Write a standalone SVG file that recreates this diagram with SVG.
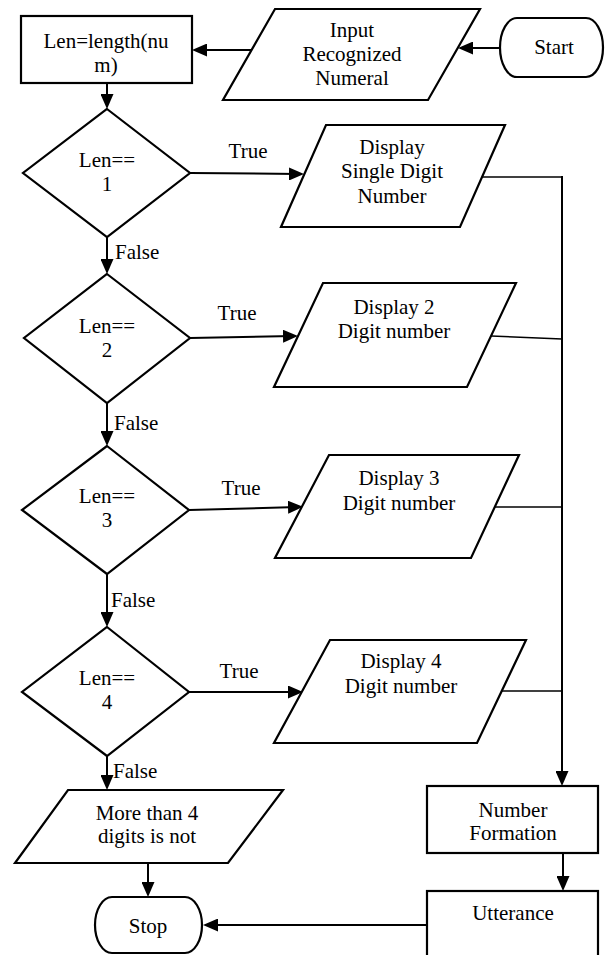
<svg xmlns="http://www.w3.org/2000/svg" width="609" height="955" viewBox="0 0 609 955" font-family="'Liberation Serif', 'DejaVu Serif', serif" font-size="21">
  <style>
    .shape { fill: #ffffff; stroke: #000000; stroke-width: 2.2; stroke-linejoin: miter; }
    .flow { fill: none; stroke: #000000; stroke-width: 2; }
    .thin { fill: none; stroke: #000000; stroke-width: 1.4; }
    .c { text-anchor: middle; }
  </style>
  <defs>
    <marker id="arrow" markerUnits="userSpaceOnUse" markerWidth="15" markerHeight="13" refX="10" refY="6.5" orient="auto" viewBox="0 0 15 13">
      <path d="M0,0 L15,6.5 L0,13 z" fill="#000000"/>
    </marker>
  </defs>

  <rect width="609" height="955" fill="#ffffff"/>

  <!-- connectors -->
  <g id="connectors">
    <line class="flow" x1="500" y1="48" x2="463" y2="48" marker-end="url(#arrow)"/>
    <line class="flow" x1="251" y1="50" x2="197" y2="50" marker-end="url(#arrow)"/>
    <line class="flow" x1="107" y1="83" x2="107" y2="104" marker-end="url(#arrow)"/>
    <line class="flow" x1="190" y1="173" x2="299" y2="174" marker-end="url(#arrow)"/>
    <line class="flow" x1="107" y1="237" x2="107" y2="269" marker-end="url(#arrow)"/>
    <line class="flow" x1="190" y1="338" x2="293" y2="336" marker-end="url(#arrow)"/>
    <line class="flow" x1="107" y1="403" x2="107" y2="441" marker-end="url(#arrow)"/>
    <line class="flow" x1="189" y1="510" x2="298" y2="507" marker-end="url(#arrow)"/>
    <line class="flow" x1="107" y1="574" x2="107" y2="622" marker-end="url(#arrow)"/>
    <line class="flow" x1="189" y1="692" x2="298" y2="692" marker-end="url(#arrow)"/>
    <line class="flow" x1="107" y1="756" x2="107" y2="785" marker-end="url(#arrow)"/>
    <line class="flow" x1="148" y1="863" x2="148" y2="892" marker-end="url(#arrow)"/>

    <!-- output branches joining the collector line -->
    <line class="thin" x1="482" y1="177" x2="562" y2="177"/>
    <line class="thin" x1="491" y1="336" x2="562" y2="339"/>
    <line class="thin" x1="495" y1="507" x2="562" y2="507"/>
    <line class="thin" x1="501" y1="691" x2="562" y2="691"/>
    <line class="flow" x1="562" y1="176" x2="562" y2="781" marker-end="url(#arrow)"/>

    <line class="flow" x1="563" y1="853" x2="563" y2="886" marker-end="url(#arrow)"/>
    <line class="flow" x1="427" y1="925" x2="208" y2="925" marker-end="url(#arrow)"/>

    <text x="248" y="158" class="c">True</text>
    <text x="237" y="320" class="c">True</text>
    <text x="241" y="495" class="c">True</text>
    <text x="239" y="678" class="c">True</text>
    <text x="115" y="259">False</text>
    <text x="114" y="430">False</text>
    <text x="111" y="607">False</text>
    <text x="113" y="778">False</text>
  </g>

  <g id="start">
    <rect class="shape" x="500" y="18" width="103" height="59" rx="17" ry="29.5"/>
    <text x="554" y="54" class="c">Start</text>
  </g>

  <g id="input">
    <polygon class="shape" points="275,9 480,9 428,100 223,100"/>
    <text x="352" y="37" class="c">Input</text>
    <text x="352" y="61" class="c">Recognized</text>
    <text x="352" y="85" class="c">Numeral</text>
  </g>

  <g id="length">
    <rect class="shape" x="21" y="16" width="171" height="67"/>
    <text x="106" y="48" class="c">Len=length(nu</text>
    <text x="106" y="72" class="c">m)</text>
  </g>

  <g id="check1">
    <polygon class="shape" points="107,109 190,173 107,237 23,173"/>
    <text x="107" y="167" class="c">Len==</text>
    <text x="107" y="191" class="c">1</text>
  </g>

  <g id="display1">
    <polygon class="shape" points="326,125 505,125 460,227 281,227"/>
    <text x="392" y="154" class="c">Display</text>
    <text x="392" y="178" class="c">Single Digit</text>
    <text x="392" y="203" class="c">Number</text>
  </g>

  <g id="check2">
    <polygon class="shape" points="107,274 190,338 107,403 24,338"/>
    <text x="107" y="333" class="c">Len==</text>
    <text x="107" y="357" class="c">2</text>
  </g>

  <g id="display2">
    <polygon class="shape" points="323,283 516,283 467,387 274,387"/>
    <text x="394" y="314" class="c">Display 2</text>
    <text x="394" y="338" class="c">Digit number</text>
  </g>

  <g id="check3">
    <polygon class="shape" points="107,446 189,510 107,574 22,510"/>
    <text x="107" y="503" class="c">Len==</text>
    <text x="107" y="527" class="c">3</text>
  </g>

  <g id="display3">
    <polygon class="shape" points="329,455 519,455 471,558 275,558"/>
    <text x="399" y="485" class="c">Display 3</text>
    <text x="399" y="510" class="c">Digit number</text>
  </g>

  <g id="check4">
    <polygon class="shape" points="107,627 189,692 107,756 22,692"/>
    <text x="107" y="685" class="c">Len==</text>
    <text x="107" y="709" class="c">4</text>
  </g>

  <g id="display4">
    <polygon class="shape" points="330,640 526,640 477,743 274,743"/>
    <text x="401" y="668" class="c">Display 4</text>
    <text x="401" y="693" class="c">Digit number</text>
  </g>

  <g id="too-long">
    <polygon class="shape" points="68,790 283,790 228,863 15,863"/>
    <text x="147" y="820" class="c">More than 4</text>
    <text x="147" y="843" class="c">digits is not</text>
  </g>

  <g id="stop">
    <rect class="shape" x="95" y="897" width="107" height="56" rx="17" ry="28"/>
    <text x="148" y="933" class="c">Stop</text>
  </g>

  <g id="formation">
    <rect class="shape" x="427" y="786" width="171" height="67"/>
    <text x="513" y="817" class="c">Number</text>
    <text x="513" y="840" class="c">Formation</text>
  </g>

  <g id="utterance">
    <rect class="shape" x="427" y="891" width="171" height="70"/>
    <text x="513" y="920" class="c">Utterance</text>
  </g>
</svg>
